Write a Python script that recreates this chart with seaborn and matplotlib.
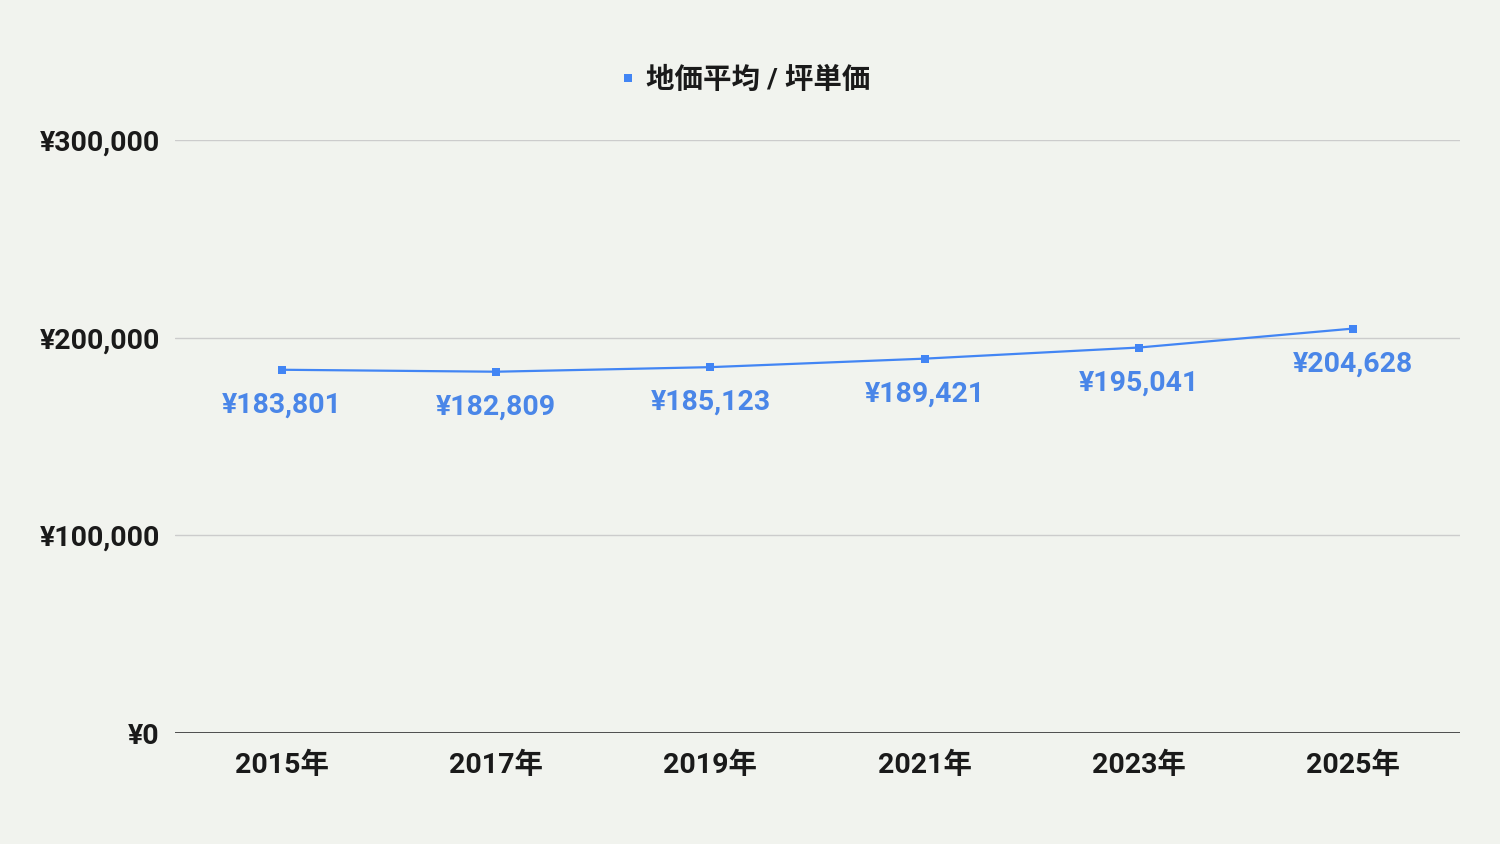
import matplotlib
matplotlib.use("Agg")
import matplotlib.pyplot as plt
import seaborn as sns
import pandas as pd
from matplotlib.ticker import FuncFormatter

years = ["2015年", "2017年", "2019年", "2021年", "2023年", "2025年"]
prices = [183801, 182809, 185123, 189421, 195041, 204628]
series_name = "地価平均 / 坪単価"

BG = "#f1f3ee"
LINE_COLOR = "#4285f4"
LABEL_COLOR = "#4a86e8"
FS = 20.5

sns.set_theme(style="white")
plt.rcParams["font.family"] = ["Roboto", "Noto Sans CJK JP", "DejaVu Sans"]

df = pd.DataFrame({"year": years, "price": prices})
df["pos"] = range(len(df))

fig = plt.figure(figsize=(15, 8.44), dpi=100, facecolor=BG)
ax = fig.add_axes([0.1167, 0.1315, 0.8566, 0.7025])
ax.set_facecolor(BG)

sns.lineplot(data=df, x="pos", y="price", ax=ax, color=LINE_COLOR, linewidth=1.6,
             marker="s", markersize=6, markeredgewidth=0, label=series_name, legend=False)

for _, row in df.iterrows():
    ax.annotate(f"¥{row['price']:,}", (row["pos"], row["price"]), xytext=(0, -25.5),
                textcoords="offset points", ha="center", va="center",
                fontsize=FS, fontweight="bold", color=LABEL_COLOR)

ax.set_xlim(-0.5, len(years) - 0.5)
ax.set_ylim(0, 300000)
ax.set_yticks([0, 100000, 200000, 300000])
ax.yaxis.set_major_formatter(FuncFormatter(lambda v, p: f"¥{int(v):,}"))
ax.set_xticks(df["pos"])
ax.set_xticklabels(years)
ax.grid(axis="y", color="#cccccc", linewidth=1)
ax.axhline(0, color="#333333", linewidth=1.2)
for s in ax.spines.values():
    s.set_visible(False)
ax.tick_params(axis="both", length=0, labelsize=FS)
ax.tick_params(axis="y", pad=11)
ax.tick_params(axis="x", pad=13.5)
for t in ax.get_xticklabels() + ax.get_yticklabels():
    t.set_fontweight("bold")
    t.set_color("#1a1a1a")
ax.set_xlabel("")
ax.set_ylabel("")

handles, labels = ax.get_legend_handles_labels()
leg = fig.legend(handles, labels, loc="center", bbox_to_anchor=(0.497, 1 - 80 / 844), frameon=False,
                 handlelength=0.5, handletextpad=0.4, prop={"size": FS, "weight": "bold"})
for h in leg.legend_handles:
    h.set_linestyle("none")
    h.set_markersize(6)
for t in leg.get_texts():
    t.set_color("#1a1a1a")

fig.savefig("out.png", dpi=100, facecolor=BG)
